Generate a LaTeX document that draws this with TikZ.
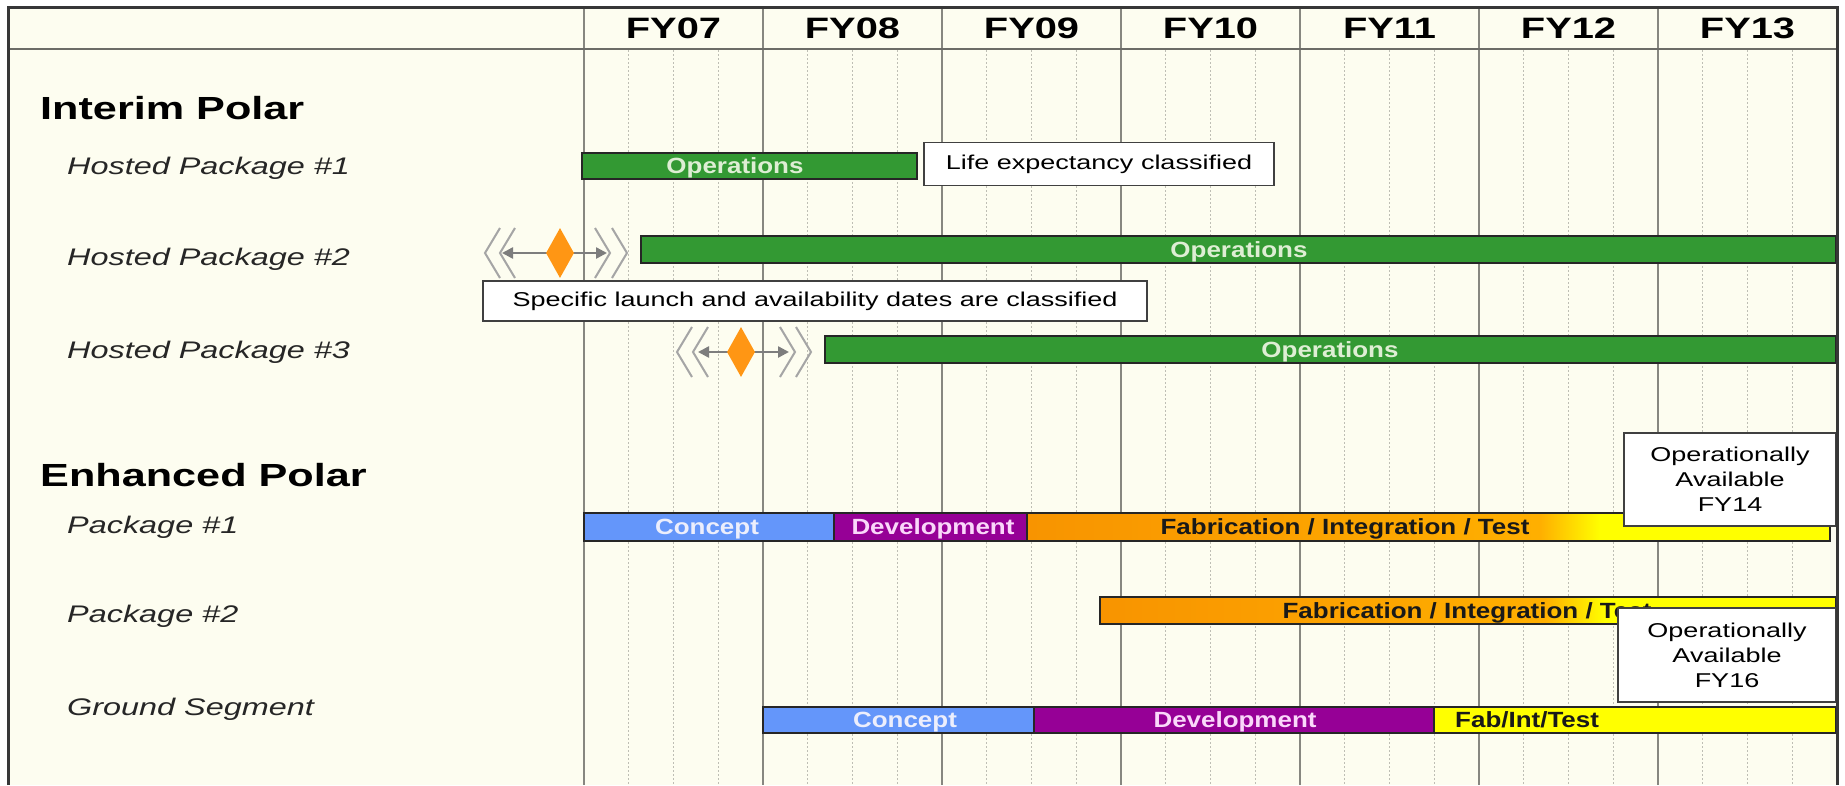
\documentclass[tikz,border=0pt]{standalone}
\usepackage{fontspec}
\setmainfont{Liberation Sans}[FakeStretch=1.35]
\newfontfamily\barfont{Liberation Sans}[FakeStretch=1.18]
\usetikzlibrary{arrows.meta,shapes.geometric}

\definecolor{paper}{RGB}{253,253,240}
\definecolor{framegray}{RGB}{55,55,55}
\definecolor{yearline}{RGB}{135,135,128}
\definecolor{qline}{RGB}{190,190,180}
\definecolor{opsgreen}{RGB}{51,153,51}
\definecolor{cptblue}{RGB}{100,150,250}
\definecolor{devpurple}{RGB}{150,0,150}
\definecolor{fabdeep}{RGB}{248,148,0}
\definecolor{faborange}{RGB}{255,175,0}
\definecolor{fabyellow}{RGB}{255,255,0}
\definecolor{msorange}{RGB}{255,150,20}
\definecolor{chevgray}{RGB}{165,165,165}
\definecolor{arrgray}{RGB}{125,125,125}
\definecolor{lblgreen}{RGB}{222,238,212}
\definecolor{lblblue}{RGB}{236,238,252}
\definecolor{lblpurple}{RGB}{250,215,250}

\begin{document}
\begin{tikzpicture}[x=1pt,y=-1pt,
  yearlbl/.style={font=\fontsize{29.5}{30}\selectfont\bfseries, inner sep=0pt,
    text height=21pt, text depth=0pt},
  section/.style={anchor=west, font=\fontsize{32}{33}\selectfont\bfseries,
    inner sep=0pt, text height=23pt, text depth=0pt},
  rowlbl/.style={anchor=west, font=\fontsize{24}{26}\selectfont\itshape,
    text=black!85, inner sep=0pt, text height=17.2pt, text depth=0pt},
  barlbl/.style={font=\barfont\fontsize{22}{23}\selectfont\bfseries, inner sep=0pt,
    text height=15.8pt, text depth=0pt},
  darklbl/.style={barlbl, text=black!90},
  note/.style={draw=black!75, line width=1.5pt, fill=white,
    font=\fontsize{20}{25}\selectfont, align=center, inner sep=0pt},
  bar/.style={draw=black!85, line width=1.5pt},
  chev/.style={draw=chevgray, line width=2pt},
  msarrow/.style={draw=arrgray, line width=2.5pt,
    {Triangle[length=11pt,width=11pt]}-{Triangle[length=11pt,width=11pt]}},
  milestone/.style={diamond, fill=msorange, inner sep=0pt,
    minimum width=28pt, minimum height=50pt}]

\useasboundingbox (0,0) rectangle (1845,785);

% sheet
\fill[white] (0,0) rectangle (1845,785);
\fill[paper] (8,7) rectangle (1837,785);

% year and quarter grid
\foreach \k in {0,...,6}{
  \foreach \j in {1,2,3}
    \draw[qline, line width=1pt, dash pattern=on 2pt off 2pt]
      ({584+179*\k+44.75*\j},50) -- ({584+179*\k+44.75*\j},785);
  \draw[yearline, line width=1.6pt] ({584+179*\k},7) -- ({584+179*\k},785);
}

% header row
\draw[yearline!80!black, line width=2pt] (8,49) -- (1837,49);
\foreach \yr [count=\k from 0] in {07,08,09,10,11,12,13}
  \node[yearlbl] (fy\yr) at ({584+179*\k+89.5},28) {FY\yr};

% outer frame
\draw[framegray, line width=3pt] (8,785) -- (8,7) -- (1837,7) -- (1837,785);

% row titles
\node[section] (interim) at (40,108) {Interim Polar};
\node[rowlbl] (hp1) at (67,166) {Hosted Package \#1};
\node[rowlbl] (hp2) at (67,256.5) {Hosted Package \#2};
\node[rowlbl] (hp3) at (67,349.5) {Hosted Package \#3};
\node[section] (enhanced) at (40,475) {Enhanced Polar};
\node[rowlbl] (pk1) at (67,525) {Package \#1};
\node[rowlbl] (pk2) at (67,614) {Package \#2};
\node[rowlbl] (gnd) at (67,707) {Ground Segment};

% Hosted Package #1
\fill[opsgreen] (582,153) rectangle (917,179);
\draw[bar] (582,153) rectangle (917,179);
\node[barlbl, text=lblgreen] (ops1) at (735,166) {Operations};
\node[note, minimum width=350pt, minimum height=43pt] (life) at (1099,164)
  {Life expectancy classified};

% Hosted Package #2
\draw[chev] (500,228) -- (485,253) -- (500,278);
\draw[chev] (515,228) -- (500,253) -- (515,278);
\draw[chev] (595,228) -- (610,253) -- (595,278);
\draw[chev] (612,228) -- (627,253) -- (612,278);
\coordinate (m2l) at (502,253);
\coordinate (m2r) at (607,253);
\draw[msarrow] (m2l) -- (m2r);
\node[milestone] (ms2) at (560,253) {};
\fill[opsgreen] (641,236) rectangle (1836,263);
\draw[bar] (641,236) rectangle (1836,263);
\node[barlbl, text=lblgreen] (ops2) at (1239,249.5) {Operations};
\node[note, minimum width=664pt, minimum height=40pt] (launch) at (815,301)
  {Specific launch and availability dates are classified};

% Hosted Package #3
\draw[chev] (692,327) -- (677,352) -- (692,377);
\draw[chev] (708,327) -- (693,352) -- (708,377);
\draw[chev] (780,327) -- (795,352) -- (780,377);
\draw[chev] (796,327) -- (811,352) -- (796,377);
\coordinate (m3l) at (698,352);
\coordinate (m3r) at (789,352);
\draw[msarrow] (m3l) -- (m3r);
\node[milestone] (ms3) at (741,352) {};
\fill[opsgreen] (825,336) rectangle (1836,363);
\draw[bar] (825,336) rectangle (1836,363);
\node[barlbl, text=lblgreen] (ops3) at (1330,349.5) {Operations};

% Package #1
\fill[cptblue] (584,513) rectangle (834,541);
\fill[devpurple] (834,513) rectangle (1027,541);
\shade[left color=fabdeep, right color=faborange] (1027,513) rectangle (1540,541);
\shade[left color=faborange, right color=fabyellow] (1540,513) rectangle (1600,541);
\fill[fabyellow] (1600,513) rectangle (1830,541);
\draw[bar] (584,513) rectangle (1830,541);
\draw[bar] (834,513) -- (834,541) (1027,513) -- (1027,541);
\node[barlbl, text=lblblue] (cpt1) at (707,527) {Concept};
\node[barlbl, text=lblpurple] (dev1) at (933,527) {Development};
\node[darklbl] (fab1) at (1345,527) {Fabrication / Integration / Test};
\node[note, minimum width=212pt, minimum height=93pt] (fy14) at (1730,479.5)
  {Operationally\\Available\\FY14};

% Package #2
\shade[left color=fabdeep, right color=faborange] (1100,597) rectangle (1545,624);
\shade[left color=faborange, right color=fabyellow] (1545,597) rectangle (1605,624);
\fill[fabyellow] (1605,597) rectangle (1836,624);
\draw[bar] (1100,597) rectangle (1836,624);
\node[darklbl] (fab2) at (1467,610.5) {Fabrication / Integration / Test};
\node[note, minimum width=218pt, minimum height=94pt] (fy16) at (1727,655)
  {Operationally\\Available\\FY16};

% Ground Segment
\fill[cptblue] (763,707) rectangle (1034,733);
\fill[devpurple] (1034,707) rectangle (1434,733);
\fill[fabyellow] (1434,707) rectangle (1836,733);
\draw[bar] (763,707) rectangle (1836,733);
\draw[bar] (1034,707) -- (1034,733) (1434,707) -- (1434,733);
\node[barlbl, text=lblblue] (cpt3) at (905,720) {Concept};
\node[barlbl, text=lblpurple] (dev3) at (1235,720) {Development};
\node[darklbl, anchor=west] (fab3) at (1455,720) {Fab/Int/Test};

% right frame edge over the bar ends
\draw[framegray, line width=3pt] (1837,7) -- (1837,785);
\end{tikzpicture}
\end{document}
